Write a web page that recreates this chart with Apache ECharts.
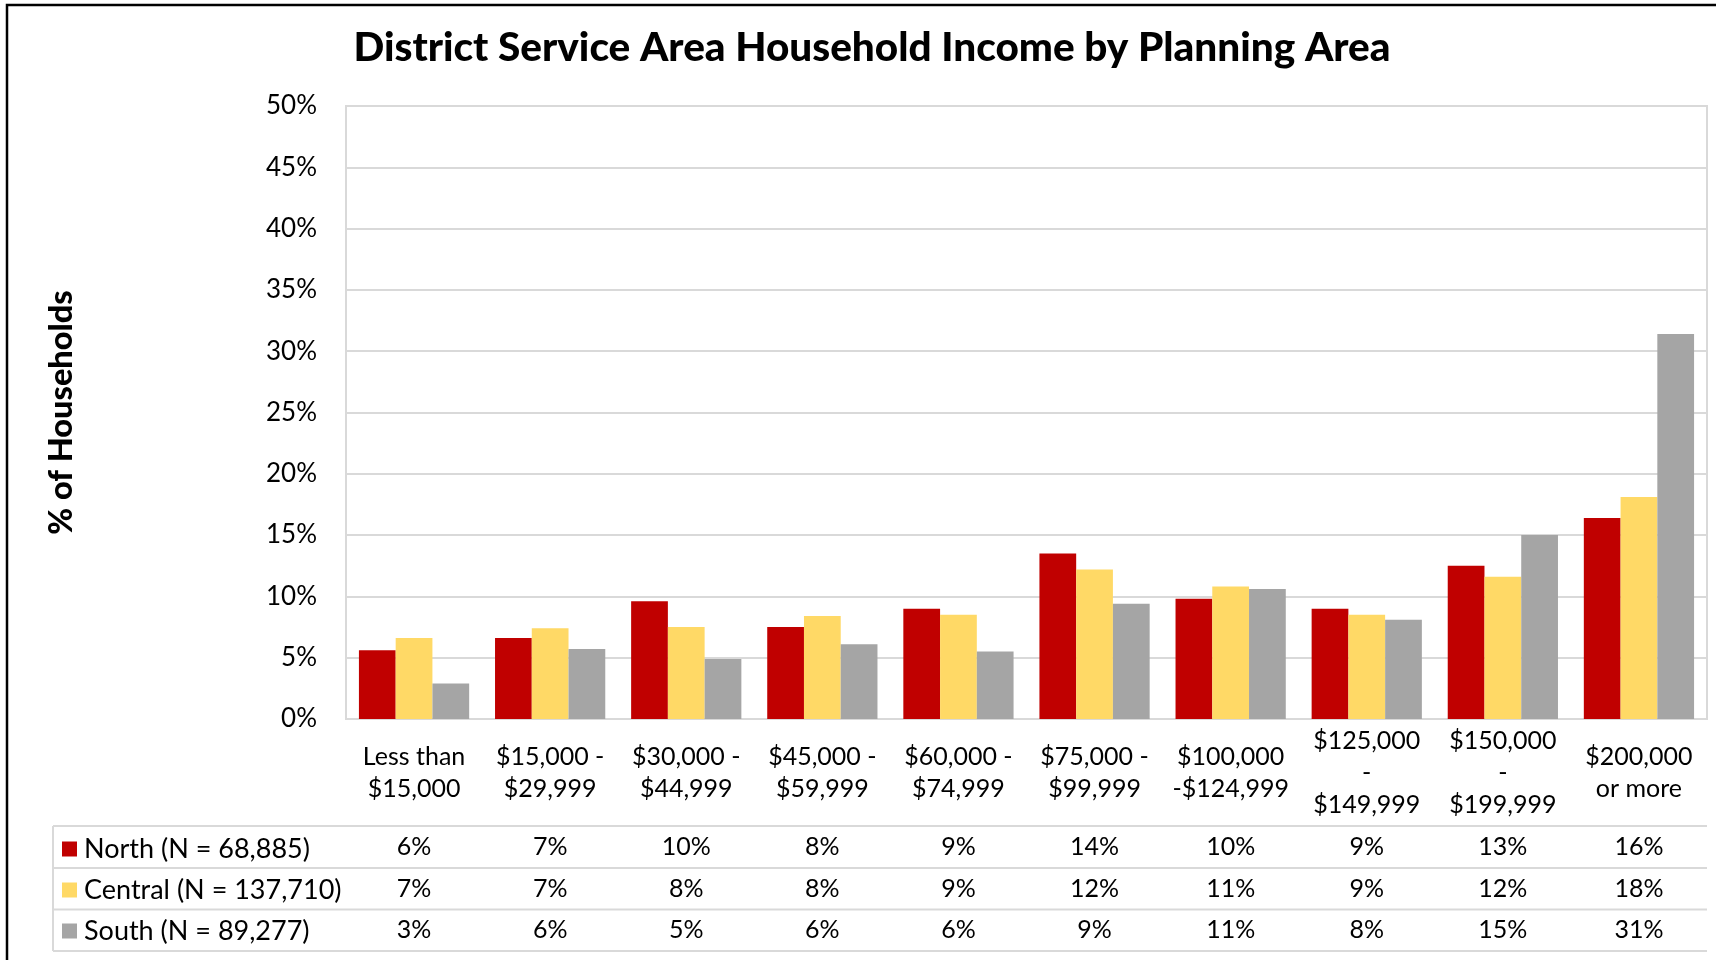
<!DOCTYPE html>
<html>
<head>
<meta charset="utf-8">
<title>District Service Area Household Income</title>
<script src="https://cdn.jsdelivr.net/npm/echarts@6/dist/echarts.min.js"></script>
<style>
	html, body { margin: 0; padding: 0; background: #fff; }
	#chart { width: 1716px; height: 960px; }
</style>
</head>
<body>
<div id="chart"></div>
<script>
	/*数据*/
	var categories = ['Less than\n$15,000', '$15,000 -\n$29,999', '$30,000 -\n$44,999', '$45,000 -\n$59,999',
		'$60,000 -\n$74,999', '$75,000 -\n$99,999', '$100,000\n-$124,999', '$125,000\n-\n$149,999',
		'$150,000\n-\n$199,999', '$200,000\nor more'];
	var seriesNames = ['North (N = 68,885)', 'Central (N = 137,710)', 'South (N = 89,277)'];
	var north = [5.6, 6.6, 9.6, 7.5, 9.0, 13.5, 9.8, 9.0, 12.5, 16.4];
	var central = [6.6, 7.4, 7.5, 8.4, 8.5, 12.2, 10.8, 8.5, 11.6, 18.1];
	var south = [2.9, 5.7, 4.9, 6.1, 5.5, 9.4, 10.6, 8.1, 15.0, 31.4];
	var colors = ['#C00000', '#FFD966', '#A5A5A5'];

	/*布局*/
	var gridLeft = 346, gridRight = 9, gridTop = 106, gridBottom = 241;
	var axisY = 960 - gridBottom;      // 0% line
	var tableLeft = 53;
	var rowLines = [826, 868, 909.5, 951];
	var lineColor = '#d9d9d9';
	var font = 'Lato, "Open Sans", sans-serif';

	var myChart = echarts.init(document.getElementById('chart'));

	// 数据表的行（每行一个x轴）
	function rowAxis(values, offset) {
		return {
			type: 'category',
			data: categories,
			position: 'bottom',
			offset: offset,
			axisLine: { show: false },
			axisTick: { show: false },
			axisLabel: {
				interval: 0,
				margin: 0,
				verticalAlign: 'middle',
				fontFamily: font,
				fontSize: 25,
				color: '#000',
				formatter: function(v, i) {
					return Math.round(values[i]) + '%';
				}
			}
		};
	}

	var rowMid = function(k) { return (rowLines[k] + rowLines[k + 1]) / 2 - axisY; };

	var graphics = [{
		type: 'rect',
		shape: { x: 7, y: 5, width: 1760, height: 1000 },
		style: { fill: null, stroke: '#000', lineWidth: 2.5 },
		silent: true
	}, {
		type: 'line',
		shape: { x1: tableLeft, y1: rowLines[0], x2: tableLeft, y2: rowLines[3] },
		style: { stroke: lineColor, lineWidth: 2 }
	}];
	rowLines.forEach(function(y) {
		graphics.push({
			type: 'line',
			shape: { x1: tableLeft, y1: y, x2: 1716 - gridRight, y2: y },
			style: { stroke: lineColor, lineWidth: 2 }
		});
	});

	var option = {
		animation: false,
		color: colors,
		title: {
			text: 'District Service Area Household Income by Planning Area',
			left: 867,
			top: 22,
			textAlign: 'center',
			textStyle: { fontFamily: font, fontWeight: 900, fontSize: 40.5, color: '#000' }
		},
		legend: {
			orient: 'vertical',
			left: 57,
			top: 829,
			itemWidth: 15,
			itemHeight: 15,
			itemGap: 11,
			icon: 'rect',
			data: seriesNames,
			textStyle: { fontFamily: font, fontSize: 27, color: '#000', lineHeight: 30, padding: [0, 0, 0, 2] }
		},
		grid: {
			left: gridLeft, right: gridRight, top: gridTop, bottom: gridBottom,
			show: true, borderColor: lineColor, borderWidth: 2
		},
		xAxis: [{
			type: 'category',
			data: categories,
			axisLine: { lineStyle: { color: lineColor, width: 2 } },
			axisTick: { length: rowLines[3] - axisY, lineStyle: { color: lineColor, width: 2 } },
			axisLabel: {
				interval: 0,
				margin: (rowLines[0] - axisY) / 2,
				verticalAlign: 'middle',
				lineHeight: 32,
				fontFamily: font,
				fontSize: 25,
				color: '#000'
			}
		}, rowAxis(north, rowMid(0)), rowAxis(central, rowMid(1)), rowAxis(south, rowMid(2))],
		yAxis: {
			type: 'value',
			min: 0,
			max: 50,
			interval: 5,
			name: '% of Households',
			nameLocation: 'middle',
			nameGap: 268,
			nameTextStyle: { fontFamily: font, fontWeight: 900, fontSize: 32.5, color: '#000' },
			axisLine: { show: true, lineStyle: { color: lineColor, width: 2 } },
			splitLine: { lineStyle: { color: lineColor, width: 2 } },
			axisLabel: { formatter: '{value}%', margin: 29, fontFamily: font, fontSize: 26, color: '#000' }
		},
		series: [{
			name: seriesNames[0],
			type: 'bar',
			data: north,
			barGap: '0%',
			barCategoryGap: '19%'
		}, {
			name: seriesNames[1],
			type: 'bar',
			data: central
		}, {
			name: seriesNames[2],
			type: 'bar',
			data: south
		}],
		graphic: graphics
	};

	myChart.setOption(option);
</script>
</body>
</html>
